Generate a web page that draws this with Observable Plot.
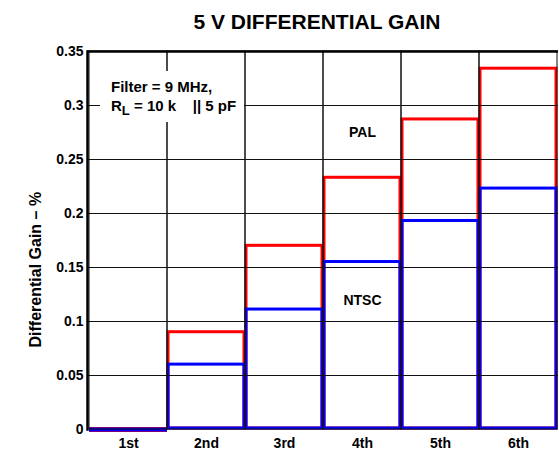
<!DOCTYPE html>
<html>
<head>
<meta charset="utf-8">
<script src="https://cdn.jsdelivr.net/npm/d3@7"></script>
<script src="https://cdn.jsdelivr.net/npm/@observablehq/plot@0.6"></script>
<style>
  html, body { margin: 0; padding: 0; background: #fff; }
  #wrap { position: relative; width: 559px; height: 454px; font-family: "Liberation Sans", Arial, sans-serif; }
  #title { height: 40px; box-sizing: border-box; padding-top: 12px; padding-left: 75px; text-align: center;
           font-weight: bold; font-size: 21px; line-height: 20px; color: #000; }
  #note { position: absolute; left: 100px; top: 71px; width: 144px; height: 51px; background: #fff;
          font-weight: bold; font-size: 15px; line-height: 19px; box-sizing: border-box; padding: 6px 0 0 11px; color: #000; white-space: nowrap; }
  #note sub { font-size: 13px; vertical-align: -4px; line-height: 0; }
</style>
</head>
<body>
<div id="wrap">
  <div id="title">5 V DIFFERENTIAL GAIN</div>
  <div id="chart"></div>
  <div id="note">Filter = 9 MHz,<br>R<sub>L</sub> = 10 k&nbsp;&nbsp;&nbsp;&nbsp;|| 5 pF</div>
</div>
<script>
const categories = ["1st", "2nd", "3rd", "4th", "5th", "6th"];
const palValues  = [0, 0.091, 0.171, 0.234, 0.288, 0.335];
const ntscValues = [0, 0.061, 0.112, 0.156, 0.194, 0.224];
const yTicks = [0, 0.05, 0.1, 0.15, 0.2, 0.25, 0.3, 0.35];
const seriesNames = ["PAL", "NTSC"];
const seriesLabelY = [0.275, 0.119];
const yLabel = "Differential Gain – %";
const yLabelAt = 0.148;

const pal = categories.map((c, i) => ({cat: c, v: palValues[i]}));
const ntsc = categories.map((c, i) => ({cat: c, v: ntscValues[i]}));
const font = "'Liberation Sans', Arial, sans-serif";

const chart = Plot.plot({
  width: 559,
  height: 414,
  marginTop: 11,
  marginBottom: 25,
  marginLeft: 87,
  marginRight: 1,
  style: {fontFamily: font, fontWeight: "bold", fontSize: "14px", color: "#000", background: "#fff"},
  x: {domain: categories, padding: 0, label: null},
  y: {domain: [0, 0.35], ticks: yTicks, label: null},
  marks: [
    Plot.barY(pal, {x: "cat", y: "v", fill: "none", stroke: "#ff0000", strokeWidth: 3, inset: 1}),
    Plot.tickY(pal.filter(d => d.v === 0), {x: "cat", y: "v", stroke: "#ff0000", strokeWidth: 5}),
    Plot.barY(ntsc, {x: "cat", y: "v", fill: "none", stroke: "#0000ff", strokeWidth: 3, inset: 1}),
    Plot.tickY(ntsc.filter(d => d.v === 0), {x: "cat", y: "v", stroke: "#0000ff", strokeWidth: 4}),
    Plot.ruleY(yTicks.slice(1, -1), {stroke: "#111", strokeWidth: 1}),
    Plot.barY(categories, {x: d => d, y1: 0, y2: 0.35, fill: "none", stroke: "#111", strokeWidth: 1, inset: 0}),
    Plot.ruleY([0.35], {stroke: "#000", strokeWidth: 2.5}),
    Plot.frame({anchor: "left", stroke: "#000", strokeWidth: 2.5}),
    Plot.axisY({ticks: yTicks, tickSize: 0, tickPadding: 4, tickFormat: d3.format(""), fontSize: 14, fontWeight: "bold", label: null}),
    Plot.axisX({tickSize: 0, tickPadding: 9, fontSize: 14, fontWeight: "bold", label: null}),
    Plot.text(seriesNames, {x: () => "4th", y: (d, i) => seriesLabelY[i], text: d => d, fontSize: 14, fontWeight: "bold", fill: "#000"}),
    Plot.text([yLabel], {frameAnchor: "left", y: () => yLabelAt, dx: -52, rotate: -90, textAnchor: "middle", lineAnchor: "middle", fontSize: 16, fontWeight: "bold", fill: "#000"})
  ]
});
document.getElementById("chart").appendChild(chart);
</script>
</body>
</html>
